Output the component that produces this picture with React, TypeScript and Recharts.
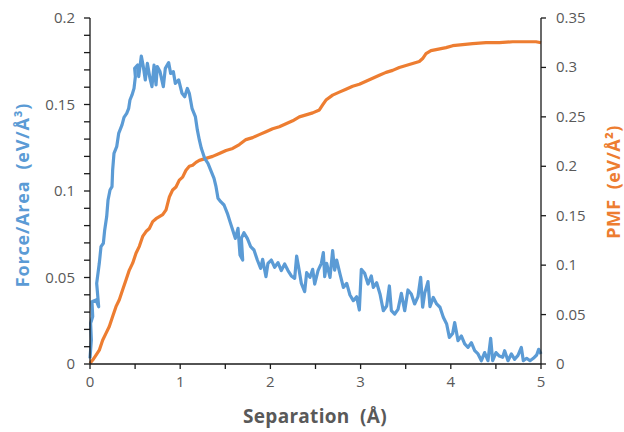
import { LineChart, Line, XAxis, YAxis } from "recharts"

// Force/Area trace (blue, left axis)
const forceX = [
  0, 0.015, 0.007, 0.03, 0.022, 0.067, 0.096, 0.074, 0.103, 0.122, 0.148, 0.163, 0.185, 0.2, 0.222, 0.244,
  0.251, 0.266, 0.296, 0.318, 0.355, 0.377, 0.407, 0.429, 0.443, 0.466, 0.488, 0.503, 0.495, 0.528, 0.54,
  0.569, 0.591, 0.613, 0.636, 0.665, 0.687, 0.71, 0.732, 0.746, 0.776, 0.813, 0.835, 0.872, 0.894, 0.924,
  0.946, 0.983, 1.02, 1.05, 1.079, 1.101, 1.131, 1.168, 1.19, 1.212, 1.234, 1.271, 1.308, 1.338, 1.375,
  1.397, 1.419, 1.449, 1.486, 1.523, 1.552, 1.582, 1.611, 1.641, 1.663, 1.693, 1.678, 1.707, 1.744, 1.781,
  1.818, 1.855, 1.892, 1.914, 1.951, 1.973, 2.01, 2.047, 2.084, 2.121, 2.158, 2.195, 2.232, 2.269, 2.291,
  2.313, 2.343, 2.38, 2.402, 2.439, 2.469, 2.491, 2.528, 2.565, 2.587, 2.602, 2.624, 2.661, 2.69, 2.712,
  2.735, 2.772, 2.809, 2.846, 2.882, 2.919, 2.956, 2.986, 3.008, 3.045, 3.082, 3.119, 3.141, 3.178, 3.215,
  3.252, 3.289, 3.319, 3.341, 3.378, 3.415, 3.452, 3.489, 3.525, 3.562, 3.599, 3.636, 3.666, 3.688, 3.71,
  3.747, 3.769, 3.806, 3.843, 3.88, 3.917, 3.954, 3.984, 4.021, 4.043, 4.08, 4.117, 4.154, 4.191, 4.228,
  4.265, 4.302, 4.339, 4.375, 4.412, 4.442, 4.464, 4.501, 4.538, 4.575, 4.597, 4.634, 4.671, 4.708, 4.745,
  4.782, 4.804, 4.841, 4.878, 4.915, 4.952, 4.974, 5,
]
const forceY = [
  0.0033, 0.0139, 0.0235, 0.0274, 0.036, 0.037, 0.0331, 0.0466, 0.0582, 0.0678, 0.0698, 0.0775, 0.0852,
  0.0948, 0.1006, 0.1025, 0.1121, 0.1218, 0.1256, 0.1333, 0.1382, 0.1426, 0.1449, 0.1478, 0.1526, 0.1555,
  0.1593, 0.1661, 0.1709, 0.1728, 0.1661, 0.178, 0.1719, 0.1642, 0.1738, 0.1651, 0.1603, 0.1728, 0.1613,
  0.1719, 0.169, 0.1603, 0.1709, 0.1742, 0.168, 0.169, 0.1622, 0.1642, 0.1565, 0.1545, 0.1593, 0.1565,
  0.1478, 0.143, 0.1353, 0.1295, 0.1247, 0.1189, 0.116, 0.1121, 0.1073, 0.1025, 0.0958, 0.0938, 0.0919,
  0.0871, 0.0823, 0.0775, 0.0726, 0.0784, 0.063, 0.0601, 0.0726, 0.0759, 0.0726, 0.0678, 0.0659, 0.0601,
  0.0553, 0.0605, 0.0505, 0.0582, 0.0601, 0.0559, 0.0586, 0.054, 0.0578, 0.054, 0.0509, 0.0495, 0.0624,
  0.0559, 0.0466, 0.0418, 0.0528, 0.0501, 0.0547, 0.0462, 0.054, 0.0582, 0.0644, 0.0505, 0.0582, 0.0501,
  0.0655, 0.0543, 0.0601, 0.052, 0.0443, 0.0466, 0.0399, 0.0366, 0.0389, 0.0312, 0.0547, 0.0524, 0.0462,
  0.0509, 0.0443, 0.047, 0.0405, 0.0308, 0.0335, 0.0451, 0.0308, 0.0289, 0.0316, 0.0408, 0.0308, 0.0428,
  0.0405, 0.0347, 0.0389, 0.0501, 0.0328, 0.0408, 0.0476, 0.0331, 0.0385, 0.0347, 0.0328, 0.027, 0.0231,
  0.0154, 0.0177, 0.0239, 0.0135, 0.0162, 0.0116, 0.0096, 0.0123, 0.0077, 0.0058, 0.0019, 0.0066, 0.0019,
  0.0148, 0.0019, 0.0066, 0.0046, 0.0039, 0.0077, 0.0019, 0.0058, 0.0027, 0.005, 0.0096, 0.0019, 0.0033,
  0.0019, 0.0033, 0.0052, 0.0085, 0.0058,
]

// PMF trace (orange, right axis)
const pmfX = [
  0, 0.03, 0.067, 0.103, 0.14, 0.177, 0.214, 0.251, 0.288, 0.325, 0.362, 0.399, 0.436, 0.473, 0.51, 0.547,
  0.584, 0.621, 0.658, 0.695, 0.732, 0.769, 0.806, 0.843, 0.88, 0.916, 0.953, 0.99, 1.027, 1.064, 1.101,
  1.138, 1.175, 1.212, 1.286, 1.36, 1.434, 1.508, 1.582, 1.656, 1.729, 1.803, 1.877, 1.951, 2.025, 2.099,
  2.173, 2.247, 2.321, 2.395, 2.469, 2.543, 2.579, 2.616, 2.69, 2.764, 2.838, 2.912, 2.986, 3.06, 3.134,
  3.208, 3.282, 3.355, 3.429, 3.503, 3.577, 3.651, 3.688, 3.725, 3.78, 3.836, 3.947, 4.021, 4.132, 4.242,
  4.39, 4.538, 4.686, 4.834, 4.945, 5,
]
const pmfY = [
  0.0007, 0.004, 0.009, 0.014, 0.024, 0.031, 0.038, 0.048, 0.058, 0.065, 0.075, 0.085, 0.095, 0.102, 0.112,
  0.119, 0.129, 0.134, 0.137, 0.144, 0.147, 0.149, 0.151, 0.156, 0.169, 0.176, 0.179, 0.186, 0.189, 0.196,
  0.2, 0.201, 0.204, 0.206, 0.208, 0.21, 0.213, 0.216, 0.218, 0.222, 0.227, 0.229, 0.232, 0.235, 0.238,
  0.24, 0.243, 0.246, 0.25, 0.252, 0.254, 0.257, 0.262, 0.267, 0.272, 0.275, 0.278, 0.281, 0.283, 0.286,
  0.289, 0.292, 0.295, 0.297, 0.3, 0.302, 0.304, 0.306, 0.309, 0.314, 0.317, 0.318, 0.32, 0.322, 0.323,
  0.324, 0.325, 0.325, 0.326, 0.326, 0.326, 0.325,
]

const xTicks = [0, 0.5, 1, 1.5, 2, 2.5, 3, 3.5, 4, 4.5, 5]
const leftTicks = [
  0, 0.01, 0.02, 0.03, 0.04, 0.05, 0.06, 0.07, 0.08, 0.09, 0.1, 0.11, 0.12, 0.13, 0.14, 0.15, 0.16, 0.17,
  0.18, 0.19, 0.2,
]
const rightTicks = [0, 0.05, 0.1, 0.15, 0.2, 0.25, 0.3, 0.35]

const forceData = forceX.map((x, i) => ({ x, f: forceY[i] }))
const pmfData = pmfX.map((x, i) => ({ x, p: pmfY[i] }))

const BLUE = "#5B9BD5"
const ORANGE = "#ED7D31"
const GREY = "#595959"
const FONT = "'Open Sans', 'Noto Sans', sans-serif"

const fmt = (v: number) => String(Number(v.toFixed(2)))

function XTick({ x, y, payload }: any) {
  const v = payload.value
  if (Math.abs(v - Math.round(v)) > 1e-6) return <g />
  return (
    <text x={x} y={y} dy={12} textAnchor="middle" fill={GREY} fontSize={15} fontFamily={FONT}>
      {fmt(v)}
    </text>
  )
}

function LeftTick({ x, y, payload }: any) {
  const v = payload.value
  if (Math.abs(v * 20 - Math.round(v * 20)) > 1e-6) return <g />
  return (
    <text x={x} y={y} dy={5} textAnchor="end" fill={GREY} fontSize={15} fontFamily={FONT}>
      {fmt(v)}
    </text>
  )
}

function RightTick({ x, y, payload }: any) {
  return (
    <text x={x} y={y} dy={5} textAnchor="start" fill={GREY} fontSize={15} fontFamily={FONT}>
      {fmt(payload.value)}
    </text>
  )
}

export default function App() {
  return (
    <div style={{ position: "absolute", left: 0, top: 0, width: 624, height: 432, background: "#fff", fontFamily: FONT }}>
      <LineChart width={624} height={432} margin={{ top: 18, right: 23, left: 30, bottom: 28 }}>
        <XAxis
          dataKey="x"
          type="number"
          domain={[0, 5]}
          ticks={xTicks}
          interval={0}
          height={40}
          tick={<XTick />}
          tickSize={5}
          tickMargin={6}
          axisLine={{ stroke: "#1a1a1a", strokeWidth: 1.3 }}
          tickLine={{ stroke: "#1a1a1a", strokeWidth: 1.3 }}
          allowDuplicatedCategory={false}
        />
        <YAxis
          yAxisId="left"
          type="number"
          domain={[0, 0.2]}
          ticks={leftTicks}
          interval={0}
          width={60}
          tick={<LeftTick />}
          tickSize={6}
          tickMargin={9}
          axisLine={{ stroke: "#1a1a1a", strokeWidth: 1.3 }}
          tickLine={{ stroke: "#1a1a1a", strokeWidth: 1.3 }}
        />
        <YAxis
          yAxisId="right"
          orientation="right"
          type="number"
          domain={[0, 0.35]}
          ticks={rightTicks}
          interval={0}
          width={60}
          tick={<RightTick />}
          tickSize={5}
          tickMargin={10}
          axisLine={{ stroke: "#1a1a1a", strokeWidth: 1.3 }}
          tickLine={{ stroke: "#1a1a1a", strokeWidth: 1.3 }}
        />
        <Line
          yAxisId="right"
          data={pmfData}
          dataKey="p"
          type="linear"
          stroke={ORANGE}
          strokeWidth={3.2}
          strokeLinejoin="round"
          dot={false}
          isAnimationActive={false}
        />
        <Line
          yAxisId="left"
          data={forceData}
          dataKey="f"
          type="linear"
          stroke={BLUE}
          strokeWidth={3.2}
          strokeLinejoin="round"
          dot={false}
          isAnimationActive={false}
        />
      </LineChart>
      <div
        style={{
          position: "absolute", left: 22, top: 195, transform: "translate(-50%, -50%) rotate(-90deg)",
          whiteSpace: "pre", color: BLUE, fontWeight: 700, fontSize: 18, letterSpacing: 0.8,
        }}
      >
        {"Force/Area  (eV/Å³)"}
      </div>
      <div
        style={{
          position: "absolute", left: 613, top: 182, transform: "translate(-50%, -50%) rotate(-90deg)",
          whiteSpace: "pre", color: ORANGE, fontWeight: 700, fontSize: 18, letterSpacing: 0.4,
        }}
      >
        {"PMF  (eV/Å²)"}
      </div>
      <div
        style={{
          position: "absolute", left: 315, top: 416, transform: "translate(-50%, -50%)",
          whiteSpace: "pre", color: GREY, fontWeight: 700, fontSize: 19, letterSpacing: 0.3,
        }}
      >
        {"Separation  (Å)"}
      </div>
    </div>
  )
}
